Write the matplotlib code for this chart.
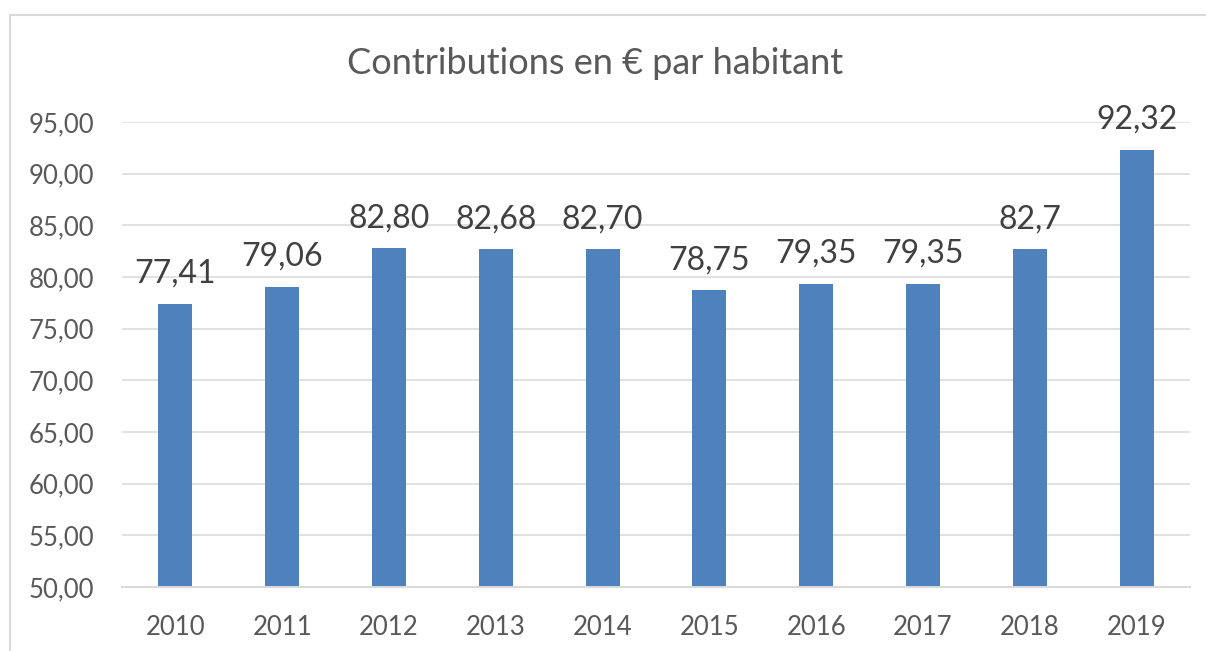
import matplotlib
matplotlib.use("Agg")
import matplotlib.pyplot as plt
from matplotlib.lines import Line2D
from matplotlib.ticker import FuncFormatter

years = ["2010", "2011", "2012", "2013", "2014", "2015", "2016", "2017", "2018", "2019"]
values = [77.41, 79.06, 82.80, 82.68, 82.70, 78.75, 79.35, 79.35, 82.70, 92.32]
value_labels = ["77,41", "79,06", "82,80", "82,68", "82,70", "78,75", "79,35", "79,35", "82,7", "92,32"]
y_ticks = [50, 55, 60, 65, 70, 75, 80, 85, 90, 95]

plt.rcParams['font.family'] = ['Lato', 'DejaVu Sans']

fig = plt.figure(figsize=(12.06, 6.51), dpi=100)
ax = fig.add_axes([122 / 1206, 1 - 587 / 651, (1190 - 122) / 1206, (587 - 122) / 651])

x = range(len(years))
ax.bar(x, values, width=0.32, color="#4F81BD", bottom=0, zorder=3)
ax.set_xlim(-0.5, len(years) - 0.5)
ax.set_ylim(50, 95)
ax.set_yticks(y_ticks)
ax.yaxis.set_major_formatter(FuncFormatter(lambda v, p: f"{v:.2f}".replace(".", ",")))
ax.set_xticks(list(x))
ax.set_xticklabels(years)

ax.grid(axis="y", color="#D9D9D9", linewidth=1.1, zorder=0)
for s in ["top", "right", "left"]:
    ax.spines[s].set_visible(False)
ax.spines["bottom"].set_color("#D9D9D9")
ax.spines["bottom"].set_linewidth(1.4)
ax.spines["bottom"].set_zorder(4)

ax.tick_params(axis="y", length=0, pad=20, labelsize=18.5, labelcolor="#595959")
ax.tick_params(axis="x", length=0, pad=20, labelsize=18.5, labelcolor="#595959")

for i, (v, lab) in enumerate(zip(values, value_labels)):
    ax.annotate(lab, (i, v), xytext=(0, 15), textcoords="offset points",
                ha="center", va="baseline", fontsize=23, color="#404040",
                annotation_clip=False, zorder=5)

fig.text(595 / 1206, 1 - 63 / 651, "Contributions en € par habitant",
         ha="center", va="center", fontsize=26, color="#595959")

# chart frame (only top and left visible in the crop)
fig.add_artist(Line2D([10 / 1206, 1.0], [1 - 14.5 / 651, 1 - 14.5 / 651],
                      transform=fig.transFigure, color="#D9D9D9", linewidth=1.5))
fig.add_artist(Line2D([10 / 1206, 10 / 1206], [0.0, 1 - 14.5 / 651],
                      transform=fig.transFigure, color="#D9D9D9", linewidth=1.5))

fig.savefig("out.png", dpi=100, facecolor="white")
